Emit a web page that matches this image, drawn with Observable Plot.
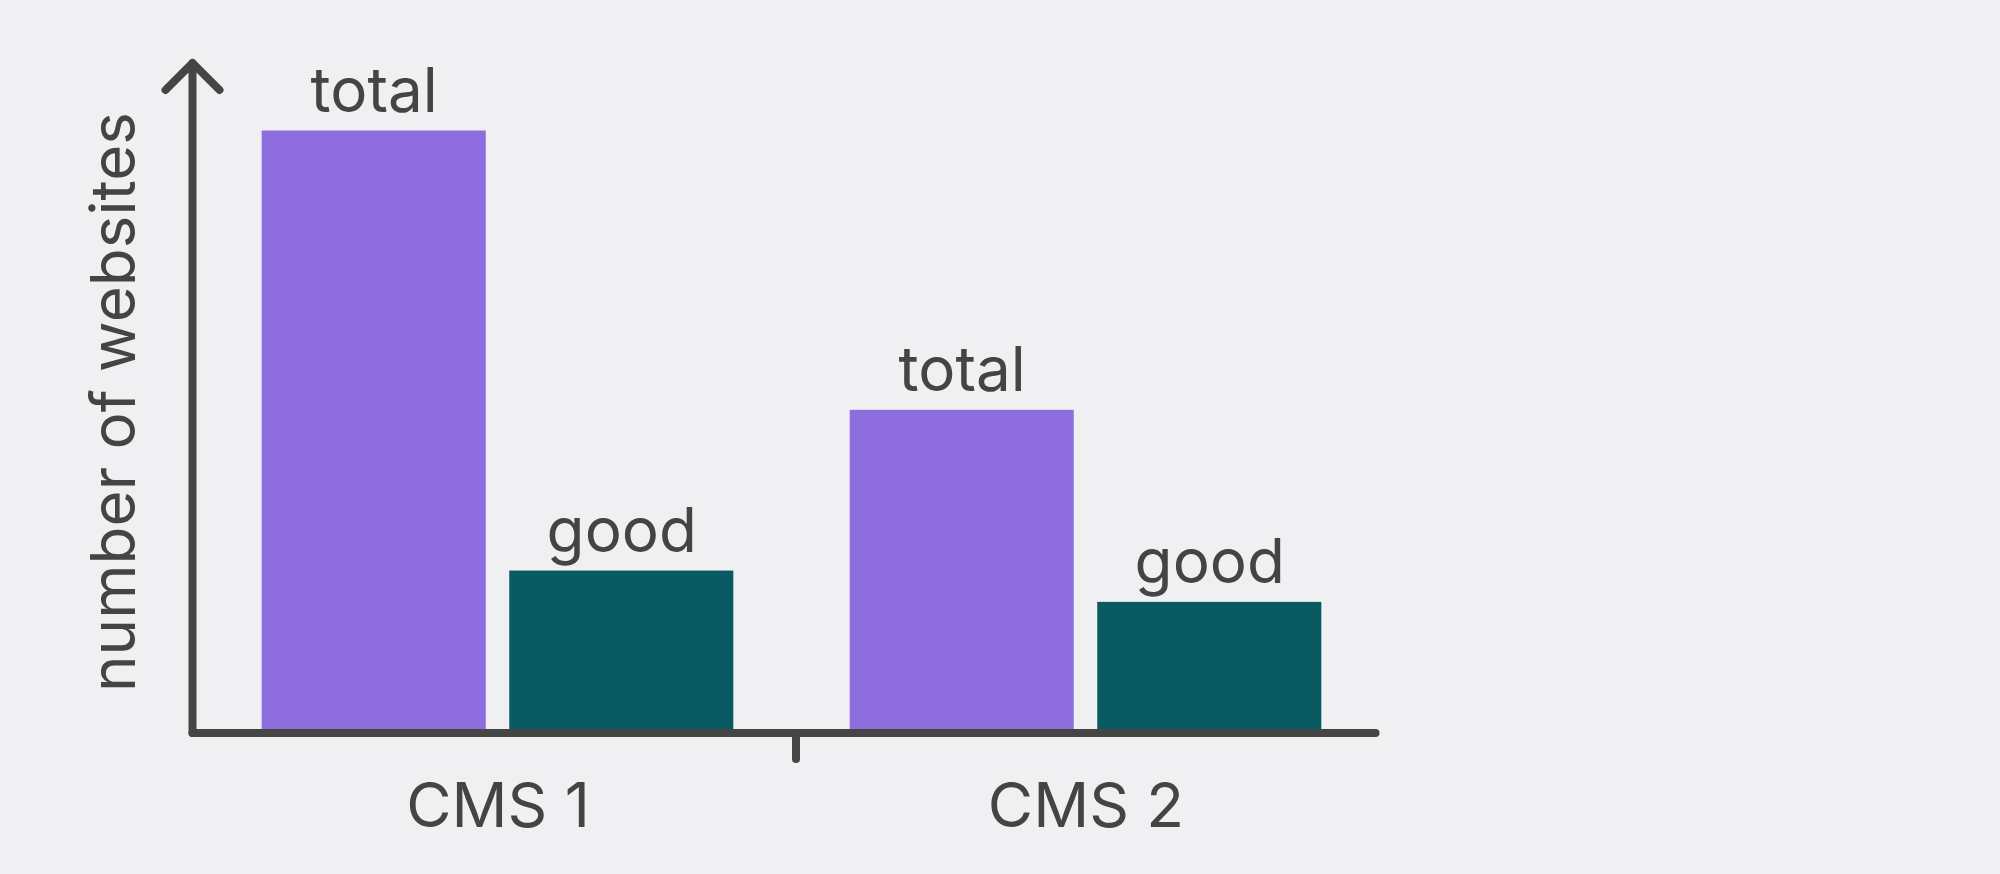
<!DOCTYPE html>
<html>
<head>
<meta charset="utf-8">
<script src="https://cdn.jsdelivr.net/npm/d3@7"></script>
<script src="https://cdn.jsdelivr.net/npm/@observablehq/plot@0.6"></script>
<style>
  html, body { margin: 0; padding: 0; background: #f0f0f2; }
  #chart { width: 2000px; height: 874px; }
</style>
</head>
<body>
<div id="chart"></div>
<script>
// ---- data ----
const categories = ["CMS 1", "CMS 2"];
const series = ["total", "good"];
const totalValues = [100, 53.6];
const goodValues = [26.9, 21.7];
const yAxisLabel = "number of websites";

// ---- table built from the arrays ----
const data = [];
categories.forEach((c, i) => {
  data.push({cms: c, series: "total", value: totalValues[i]});
  data.push({cms: c, series: "good", value: goodValues[i]});
});

const ink = "#454545";
const textInk = "#444444";

// vector shapes for the axis decorations
const arrowShape = {
  draw(context, l) {
    const w = 27;
    context.moveTo(0, 0);
    context.lineTo(0, -l);
    context.moveTo(-w, w - l);
    context.lineTo(0, -l);
    context.lineTo(w, w - l);
  }
};
const stickShape = {
  draw(context, l) {
    context.moveTo(0, 0);
    context.lineTo(0, -l);
  }
};

const chart = Plot.plot({
  width: 2000,
  height: 874,
  marginLeft: 192,
  marginRight: 625,
  marginTop: 62.5,
  marginBottom: 141.5,
  style: {background: "#f0f0f2", fontFamily: "Inter, 'Noto Sans', sans-serif", color: textInk},
  fx: {domain: categories, range: [203.5, 1379.5], padding: 0, round: false},
  x: {domain: series, paddingInner: 0.095, paddingOuter: 0.235, round: false, axis: null},
  y: {domain: [0, 111.3], axis: null},
  color: {domain: series, range: ["#8e6ddf", "#0a5a64"]},
  marks: [
    Plot.barY(data, {fx: "cms", x: "series", y: "value", fill: "series"}),
    Plot.text(data, {
      fx: "cms", x: "series", y: "value", text: "series",
      lineAnchor: "bottom", dy: -19, fontSize: 62, fill: textInk
    }),
    Plot.frame({
      facet: "super", anchor: "bottom", insetLeft: -11.5, insetRight: 4.5,
      stroke: ink, strokeWidth: 8, strokeLinecap: "round"
    }),
    Plot.vector([0], {
      facet: "super", frameAnchor: "bottom-left", anchor: "start", dx: -11.5,
      length: 670, rotate: 0, shape: arrowShape,
      stroke: ink, strokeWidth: 8, strokeLinecap: "round", strokeLinejoin: "round"
    }),
    Plot.vector([0], {
      facet: "super", frameAnchor: "bottom", anchor: "start",
      length: 26, rotate: 180, shape: stickShape, dx: 4,
      stroke: ink, strokeWidth: 8, strokeLinecap: "round"
    }),
    Plot.axisFx({anchor: "bottom", tickSize: 0, tickPadding: 50, fontSize: 62, label: null, fill: textInk}),
    Plot.text([yAxisLabel], {
      facet: "super", frameAnchor: "left", rotate: -90,
      textAnchor: "middle", lineAnchor: "bottom", dx: -69.5, dy: 4,
      fontSize: 62, fill: textInk
    })
  ]
});

document.getElementById("chart").appendChild(chart);
</script>
</body>
</html>
